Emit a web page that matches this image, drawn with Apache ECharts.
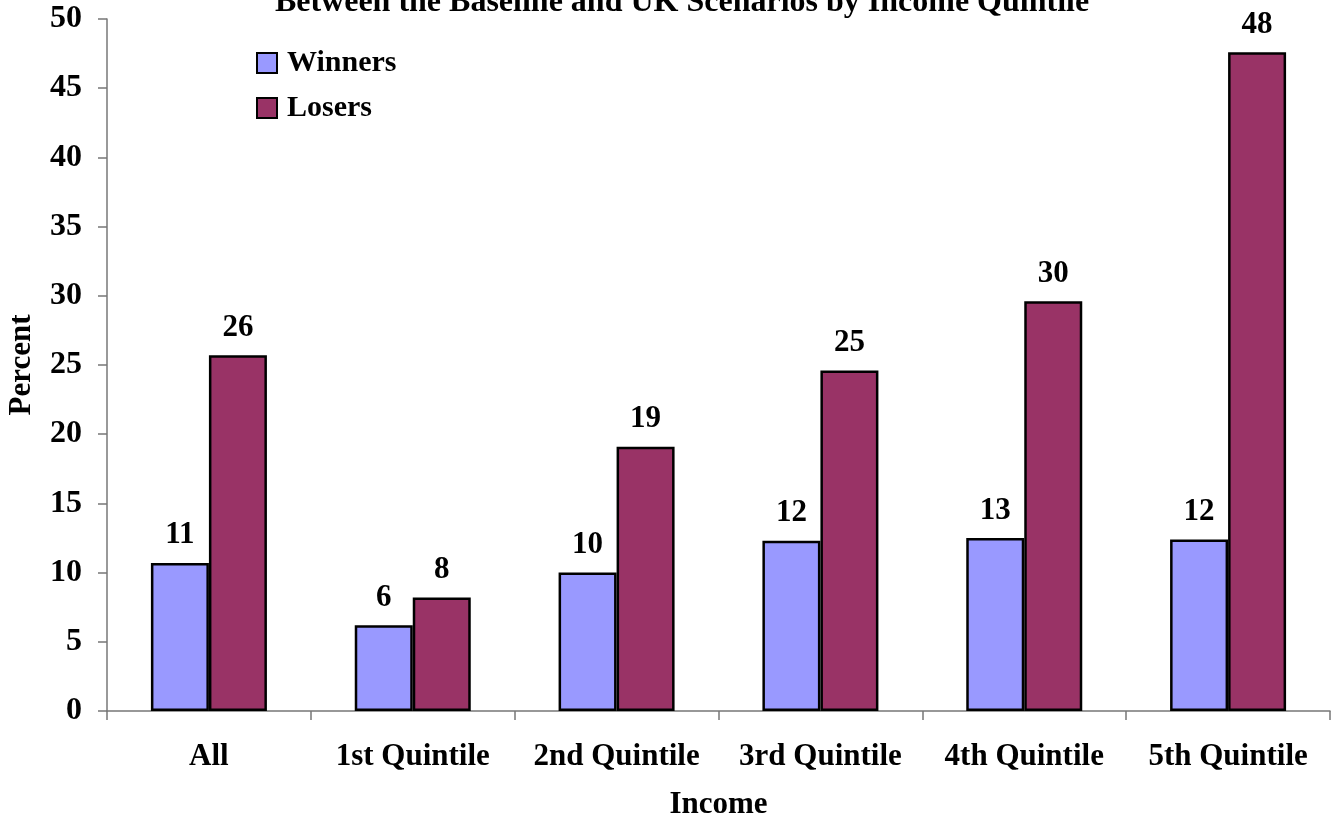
<!DOCTYPE html>
<html><head><meta charset="utf-8">
<script src="https://cdn.jsdelivr.net/npm/echarts@6/dist/echarts.min.js"></script>
<style>html,body{margin:0;padding:0;background:#fff}#c{width:1334px;height:821px}</style>
</head><body><div id="c"></div>
<script>
const categories = ['All','1st Quintile','2nd Quintile','3rd Quintile','4th Quintile','5th Quintile'];
const winners = [10.7, 6.2, 10.0, 12.3, 12.5, 12.4];
const losers = [25.7, 8.2, 19.1, 24.6, 29.6, 47.6];
const yTicks = [0,5,10,15,20,25,30,35,40,45,50];
const titleText = 'Between the Baseline and UK Scenarios by Income Quintile';

const FONT = '"Liberation Serif","Times New Roman",serif';
const chart = echarts.init(document.getElementById('c'), null, {renderer:'canvas'});
const lbl = {show:true, position:'top', distance:12, fontFamily:FONT, fontWeight:'bold', fontSize:31, color:'#000',
  formatter:p=>Math.round(p.value)};
chart.setOption({
  animation:false,
  backgroundColor:'#fff',
  textStyle:{fontFamily:FONT},
  graphic:[{type:'text', style:{text:titleText, x:682, y:19, textAlign:'center', textVerticalAlign:'bottom',
    font:'bold 32px "Liberation Serif", serif', fill:'#000'}}],
  legend:{left:256, top:48, padding:0, orient:'vertical', itemGap:15, itemWidth:20, itemHeight:20, icon:'rect',
    textStyle:{fontFamily:FONT, fontWeight:'bold', fontSize:30, color:'#000', padding:[0,0,0,5]},
    itemStyle:{borderColor:'#000', borderWidth:2}},
  grid:{left:107, right:4, top:19, bottom:110, containLabel:false, outerBoundsMode:'none'},
  xAxis:{type:'category', data:categories, name:'Income', nameLocation:'middle', nameGap:78,
    nameTextStyle:{fontFamily:FONT, fontWeight:'bold', fontSize:31, color:'#000'},
    axisLine:{lineStyle:{color:'#777', width:1.5}},
    axisTick:{show:true, interval:0, length:9, lineStyle:{color:'#777', width:1.5}},
    axisLabel:{interval:0, hideOverlap:false, margin:30, fontFamily:FONT, fontWeight:'bold', fontSize:31, color:'#000'}},
  yAxis:{type:'value', min:0, max:50, interval:5, name:'Percent', nameLocation:'middle', nameGap:70, nameRotate:90,
    nameTextStyle:{fontFamily:FONT, fontWeight:'bold', fontSize:31, color:'#000'},
    axisLine:{show:true, lineStyle:{color:'#777', width:1.5}},
    axisTick:{show:true, length:9, lineStyle:{color:'#777', width:1.5}},
    splitLine:{show:false},
    axisLabel:{margin:25, fontFamily:FONT, fontWeight:'bold', fontSize:32, color:'#000',
      formatter:v=>yTicks.includes(v)?String(v):''}},
  series:[
    {name:'Winners', type:'bar', data:winners, barWidth:58, barGap:'0%',
      itemStyle:{color:'#9999FF', borderColor:'#000', borderWidth:2.5}, label:lbl},
    {name:'Losers', type:'bar', data:losers, barWidth:58, barGap:'0%',
      itemStyle:{color:'#993366', borderColor:'#000', borderWidth:2.5}, label:lbl}
  ]
});
</script></body></html>
